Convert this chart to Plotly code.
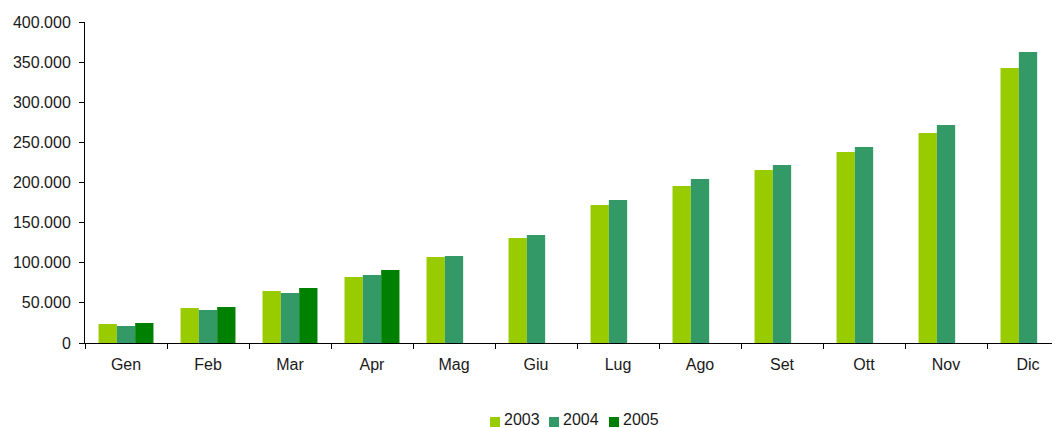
import plotly.graph_objects as go

months = ["Gen", "Feb", "Mar", "Apr", "Mag", "Giu", "Lug", "Ago", "Set", "Ott", "Nov", "Dic"]
years = ["2003", "2004", "2005"]
v2003 = [23700, 43600, 64800, 82200, 107200, 130800, 172000, 195600, 215600, 238000, 261700, 342700]
v2004 = [21200, 41100, 62300, 84700, 108400, 134600, 178200, 204300, 221800, 244200, 271600, 362600]
v2005 = [24900, 44900, 68500, 91000, None, None, None, None, None, None, None, None]
colors = ["#99CC00", "#339966", "#008000"]

FONT = "Liberation Sans, Arial, sans-serif"
OFF = 8  # default body margin of the page
W, H = 1060 - OFF, 428 - OFF
L, R, T, B = 85 - OFF, 1, 22 - OFF, 85

fig = go.Figure()
for name, vals, col in zip(years, [v2003, v2004, v2005], colors):
    fig.add_trace(go.Bar(x=months, y=vals, name=name, marker=dict(color=col, line=dict(width=0)),
                         showlegend=False))

fig.update_layout(
    width=W, height=H,
    margin=dict(l=L, r=R, t=T, b=B, autoexpand=False),
    paper_bgcolor="white", plot_bgcolor="white",
    barmode="group", bargap=0.33, bargroupgap=0,
    separators=",.",
    font=dict(family=FONT, size=16, color="#1a1a1a"),
)
fig.update_xaxes(
    type="category", range=[-0.5, 11.378],
    showline=True, linecolor="#000", linewidth=1,
    ticks="outside", ticklen=5, tickcolor="#000", tickson="boundaries",
    showgrid=False, zeroline=False,
    tickfont=dict(size=16), ticklabelstandoff=7,
)
fig.update_yaxes(
    range=[0, 400000], dtick=50000, tickformat=",d",
    showline=True, linecolor="#000", linewidth=1,
    ticks="outside", ticklen=5, tickcolor="#000",
    showgrid=False, zeroline=False,
    tickfont=dict(size=16), ticklabelstandoff=5,
)

# custom legend (page-pixel layout converted to paper coordinates)
pw, ph = W - L - R, H - T - B
def px(x):
    return (x - OFF - L) / pw
def py(y):
    return (H - B - (y - OFF)) / ph

leg_x = [490, 549, 609]
for name, col, x0 in zip(years, colors, leg_x):
    fig.add_shape(type="rect", xref="paper", yref="paper",
                  x0=px(x0), x1=px(x0 + 10), y0=py(427), y1=py(417),
                  fillcolor=col, line=dict(width=0))
    fig.add_annotation(xref="paper", yref="paper", x=px(x0 + 13), y=py(419.5),
                       text=name, showarrow=False, xanchor="left", yanchor="middle",
                       borderpad=0,
                       font=dict(size=16, family=FONT, color="#1a1a1a"))

fig.write_html("out.html")
